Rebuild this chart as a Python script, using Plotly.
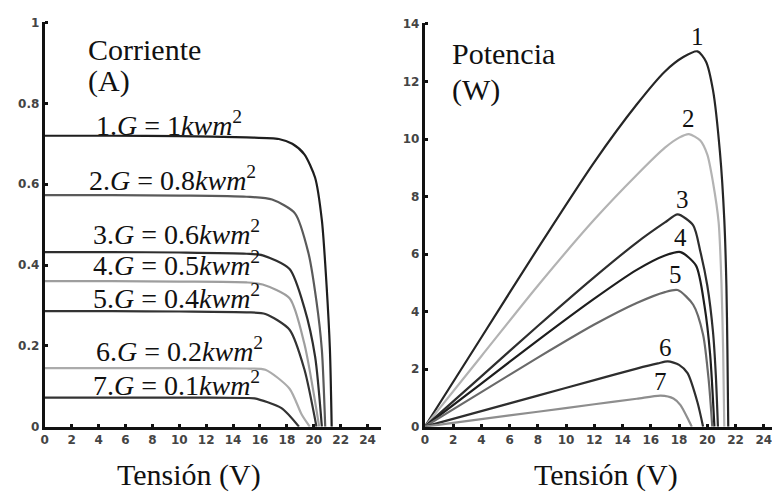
import plotly.graph_objects as go

W, H = 772, 496

# ---------------- data ----------------
V_TICKS = list(range(0, 25, 2))
I_TICKS = [0, 0.2, 0.4, 0.6, 0.8, 1]
I_TICK_TEXT = ["0", "0.2", "0.4", "0.6", "0.8", "1"]
P_TICKS = list(range(0, 15, 2))

G_LABELS = ["1", "0.8", "0.6", "0.5", "0.4", "0.2", "0.1"]

# Current curves (V, A)
iv_v1 = [0, 5, 10, 15, 17.4, 18.4, 19.3, 20.1, 20.6, 20.95, 21.2, 21.33]
iv_i1 = [0.72, 0.72, 0.719, 0.716, 0.712, 0.70, 0.674, 0.616, 0.511, 0.35, 0.19, 0]
iv_v2 = [0, 5, 10, 15, 16.9, 18.6, 19.6, 20.2, 20.6, 20.85]
iv_i2 = [0.573, 0.573, 0.572, 0.569, 0.562, 0.528, 0.43, 0.31, 0.19, 0]
iv_v3 = [0, 5, 10, 15, 16.2, 18.2, 19.3, 20.1, 20.6]
iv_i3 = [0.432, 0.432, 0.431, 0.428, 0.424, 0.39, 0.294, 0.173, 0]
iv_v4 = [0, 5, 10, 15, 16.2, 18.2, 19.3, 20.4]
iv_i4 = [0.36, 0.36, 0.359, 0.357, 0.352, 0.318, 0.205, 0]
iv_v5 = [0, 5, 10, 15, 16.4, 18.2, 19.3, 20.2]
iv_i5 = [0.286, 0.286, 0.285, 0.283, 0.279, 0.24, 0.142, 0]
iv_v6 = [0, 5, 10, 15, 16.4, 18.2, 19.1, 19.7]
iv_i6 = [0.145, 0.145, 0.145, 0.144, 0.141, 0.094, 0.03, 0]
iv_v7 = [0, 5, 10, 15, 15.6, 17.6, 18.9]
iv_i7 = [0.072, 0.072, 0.072, 0.071, 0.070, 0.046, 0]

# Power curves (V, W)
pv_v1 = [0, 4, 8, 12, 15, 17, 18.3, 19.3, 19.9, 20.4, 20.9, 21.2, 21.35, 21.42, 21.48]
pv_p1 = [0, 3.1, 6.2, 9.2, 11.2, 12.35, 12.85, 13.05, 12.7, 11.7, 9.5, 7.2, 4.9, 2.7, 0]
pv_v2 = [0, 4, 8, 12, 15, 17, 18, 18.7, 19.5, 20.0, 20.4, 20.8, 21.0, 21.12, 21.2]
pv_p2 = [0, 2.45, 4.9, 7.2, 8.75, 9.7, 10.05, 10.17, 9.95, 9.46, 8.5, 7.1, 5.0, 2.6, 0]
pv_v3 = [0, 4, 8, 12, 15, 17, 17.9, 19.0, 19.5, 20.0, 20.4, 20.6, 20.75]
pv_p3 = [0, 1.75, 3.5, 5.2, 6.4, 7.1, 7.38, 7.0, 6.1, 4.9, 3.3, 1.8, 0]
pv_v4 = [0, 4, 8, 12, 15, 17, 18.1, 19.2, 19.8, 20.2, 20.5]
pv_p4 = [0, 1.5, 3.0, 4.45, 5.45, 5.95, 6.07, 5.6, 4.2, 2.5, 0]
pv_v5 = [0, 4, 8, 12, 15, 17, 17.9, 19.0, 19.7, 20.1, 20.35]
pv_p5 = [0, 1.2, 2.4, 3.55, 4.3, 4.68, 4.75, 4.24, 3.2, 1.6, 0]
pv_v6 = [0, 4, 8, 12, 15, 16.5, 17.2, 18.0, 18.6, 19.3, 19.7]
pv_p6 = [0, 0.54, 1.08, 1.62, 2.02, 2.2, 2.27, 2.15, 1.86, 0.85, 0]
pv_v7 = [0, 4, 8, 12, 15, 16.7, 17.6, 18.1, 18.7, 18.9]
pv_p7 = [0, 0.26, 0.52, 0.78, 0.97, 1.08, 0.98, 0.75, 0.2, 0]

IV_V = [iv_v1, iv_v2, iv_v3, iv_v4, iv_v5, iv_v6, iv_v7]
IV_I = [iv_i1, iv_i2, iv_i3, iv_i4, iv_i5, iv_i6, iv_i7]
PV_V = [pv_v1, pv_v2, pv_v3, pv_v4, pv_v5, pv_v6, pv_v7]
PV_P = [pv_p1, pv_p2, pv_p3, pv_p4, pv_p5, pv_p6, pv_p7]

# ---------------- styles ----------------
LEFT_COLORS = ["#1e1e1e", "#5a5a5a", "#2e2e2e", "#9e9e9e", "#333333", "#ababab", "#333333"]
RIGHT_COLORS = ["#262626", "#b3b3b3", "#2e2e2e", "#1e1e1e", "#6a6a6a", "#2e2e2e", "#8e8e8e"]

SERIF = "Liberation Serif, Times New Roman, serif"
SANS = "DejaVu Sans, Arial, sans-serif"


def px(x):
    return x / W


def py(y):
    return 1 - y / H


fig = go.Figure()

for k in range(7):
    fig.add_trace(go.Scatter(
        x=IV_V[k], y=IV_I[k], xaxis="x", yaxis="y", mode="lines",
        line=dict(color=LEFT_COLORS[k], width=2.2, shape="spline", smoothing=0.7),
        showlegend=False, hoverinfo="skip"))

for k in range(7):
    fig.add_trace(go.Scatter(
        x=PV_V[k], y=PV_P[k], xaxis="x2", yaxis="y2", mode="lines",
        line=dict(color=RIGHT_COLORS[k], width=2.2, shape="spline", smoothing=0.7),
        showlegend=False, hoverinfo="skip"))

axis_common = dict(
    showgrid=False, zeroline=False, showline=True, linecolor="#111111", linewidth=3,
    ticks="inside", ticklen=3, tickwidth=3, tickcolor="#111111",
    tickfont=dict(family=SANS, size=12, color="#444444", weight="bold"),
    fixedrange=True, ticklabeloverflow="allow",
)

y_bot = py(432)

fig.update_layout(
    width=W, height=H,
    margin=dict(l=0, r=0, t=0, b=0),
    paper_bgcolor="white", plot_bgcolor="white",
    xaxis=dict(axis_common, domain=[px(41), px(379)], range=[0, 25.0],
               tickvals=V_TICKS, ticktext=[str(v) for v in V_TICKS], anchor="y"),
    yaxis=dict(axis_common, domain=[y_bot, py(16)], range=[0, 1.0025],
               tickvals=I_TICKS, ticktext=I_TICK_TEXT, anchor="x"),
    xaxis2=dict(axis_common, domain=[px(423), 1.0], range=[0, (W - 423) / 14.2],
                tickvals=V_TICKS, ticktext=[str(v) for v in V_TICKS], anchor="y2"),
    yaxis2=dict(axis_common, domain=[y_bot, py(17)], range=[0, 14.05],
                tickvals=P_TICKS, ticktext=[str(v) for v in P_TICKS], anchor="x2"),
)

ann = []


def text(x, y, s, size, xanchor="left", yanchor="middle"):
    ann.append(dict(x=px(x), y=py(y), xref="paper", yref="paper", text=s,
                    showarrow=False, xanchor=xanchor, yanchor=yanchor,
                    font=dict(family=SERIF, size=size, color="#111111")))


text(82, 45, "Corriente", 30)
text(82, 77, "(A)", 30)
text(448, 49, "Potencia", 30)
text(448, 86, "(W)", 30)
text(186, 482, "Tensión (V)", 30, xanchor="center")
text(605, 482, "Tensión (V)", 30, xanchor="center")

LABEL_POS = [(90, 121), (83, 177), (87, 233), (87, 264), (87, 298), (90, 353), (87, 388)]
for k in range(7):
    x, y = LABEL_POS[k]
    s = f"{k + 1}.<i>G</i> = {G_LABELS[k]}<i>kwm</i><sup>2</sup>"
    text(x, y, s, 28)

NUM_POS = [(697, 31), (688, 116), (682, 199), (680, 238), (675, 276), (665, 351), (660, 386)]
for k in range(7):
    x, y = NUM_POS[k]
    text(x, y, str(k + 1), 25, xanchor="center")

fig.update_layout(annotations=ann)

fig.write_html("out.html")
